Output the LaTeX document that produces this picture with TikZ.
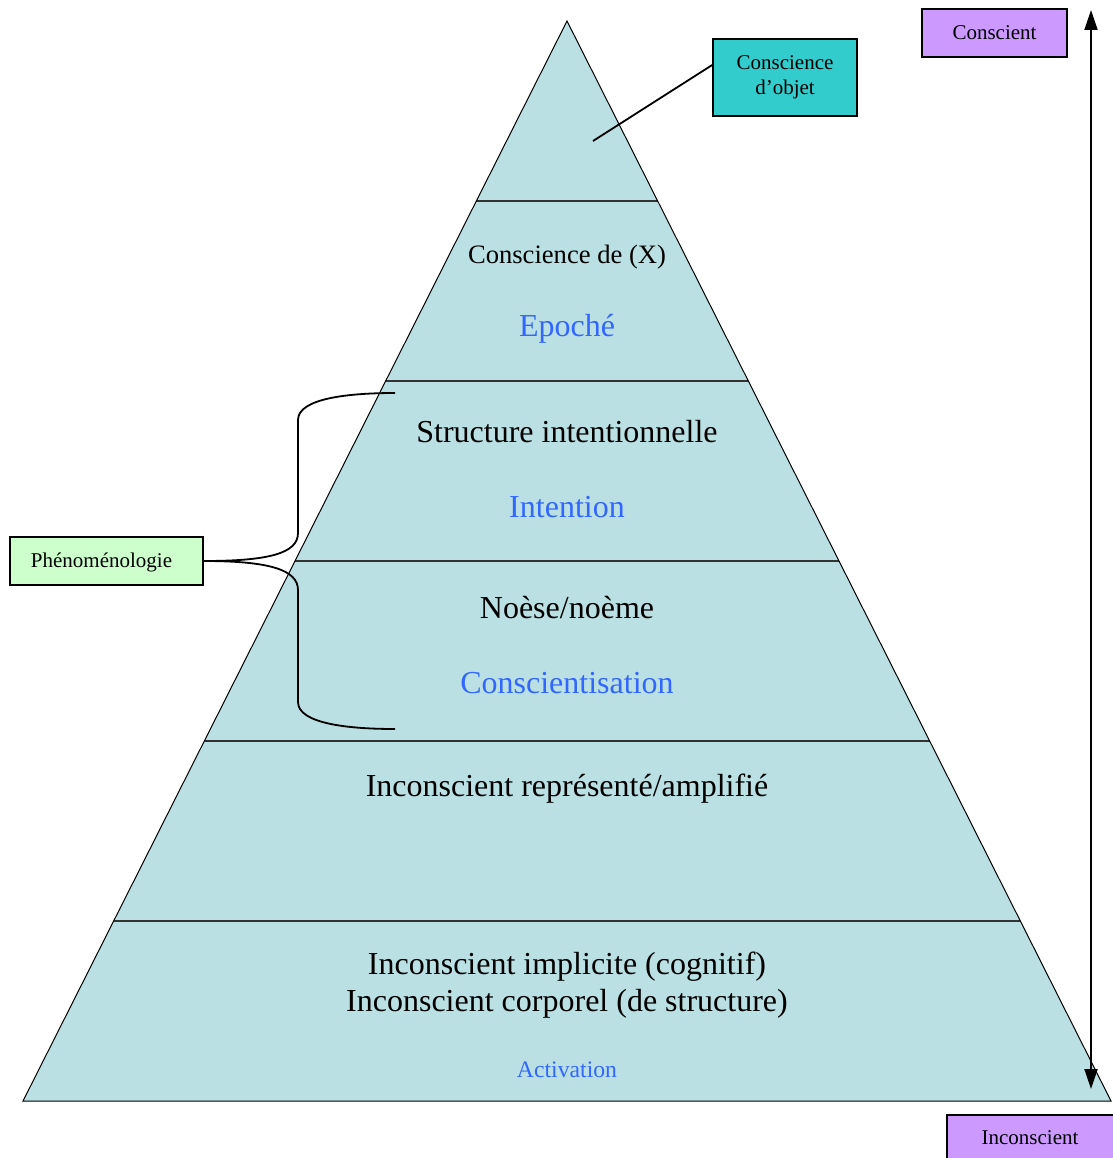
\documentclass[tikz,border=0pt]{standalone}
\usepackage{fontspec}
\setmainfont{Liberation Serif}
\usetikzlibrary{arrows.meta}
\definecolor{pyr}{HTML}{BAE0E3}
\definecolor{bluetxt}{HTML}{3366FF}
\definecolor{teal}{HTML}{33CCCC}
\definecolor{lilac}{HTML}{CC99FF}
\definecolor{mint}{HTML}{CCFFCC}
\definecolor{sep}{HTML}{333333}
\tikzset{
  smallbox/.style={draw=black, line width=1.6pt, inner sep=0pt, align=center, font=\fontsize{21}{25}\selectfont},
  bigtxt/.style={font=\fontsize{32}{37}\selectfont, inner sep=0pt},
  bluet/.style={bigtxt, text=bluetxt},
  sepline/.style={draw=sep, line width=2pt},
  conn/.style={draw=black, line width=1.8pt}
}
\begin{document}
\begin{tikzpicture}[x=1pt,y=-1pt]
\useasboundingbox (0,0) rectangle (1112,1158);
% pyramid
\coordinate (apex) at (567,21);
\coordinate (bl) at (23,1101);
\coordinate (br) at (1111,1101);
\fill[pyr] (apex) -- (bl) -- (br) -- cycle;
% separators
\draw[sepline] (476.3,201) -- (657.7,201);
\draw[sepline] (385.7,381) -- (748.3,381);
\draw[sepline] (295,561) -- (839,561);
\draw[sepline] (204.3,741) -- (929.7,741);
\draw[sepline] (113.7,921) -- (1020.3,921);
\draw[black, line width=1pt, line join=miter] (apex) -- (bl) -- (br) -- cycle;
% texts
\node[font=\fontsize{26.6}{31}\selectfont, inner sep=0pt] (t1) at (567,257.5) {Conscience de (X)};
\node[bluet] (t2) at (567,329) {Epoché};
\node[bigtxt] (t3) at (567,432) {Structure intentionnelle};
\node[bluet] (t4) at (567,507) {Intention};
\node[bigtxt] (t5) at (567,608) {Noèse/noème};
\node[bluet] (t6) at (567,683) {Conscientisation};
\node[bigtxt] (t7) at (567,789) {Inconscient représenté/amplifié};
\node[bigtxt, align=center, font=\fontsize{32}{37}\selectfont] (t8) at (567,985.5) {Inconscient implicite (cognitif)\\Inconscient corporel (de structure)};
\node[font=\fontsize{23.7}{28}\selectfont, text=bluetxt, inner sep=0pt] (t9) at (567,1070) {Activation};
% Conscience d'objet
\node[smallbox, fill=teal, minimum width=144pt, minimum height=77pt] (obj) at (785,77.5) {Conscience\\d’objet};
\coordinate (objpt) at (593,141);
\draw[conn] (objpt) -- (obj.west |- 0,65);
% Conscient / Inconscient
\node[smallbox, fill=lilac, minimum width=145pt, minimum height=48pt] (cons) at (994.5,33) {\raisebox{-1pt}{Conscient}};
\node[smallbox, fill=lilac, minimum width=168pt, minimum height=48pt, anchor=north west] (incons) at (946,1114) {};
\node[font=\fontsize{21}{25}\selectfont, inner sep=0pt] (inconst) at (1030,1138) {Inconscient};
\coordinate (atop) at (1091,10);
\coordinate (abot) at (1091,1089);
\draw[line width=2pt, {Triangle[length=20pt,width=13pt]}-{Triangle[length=20pt,width=13pt]}] (atop) -- (abot);
% Phenomenologie
\node[smallbox, fill=mint, minimum width=193pt, minimum height=48pt] (phen) at (106.5,561) {};
\node[font=\fontsize{21}{25}\selectfont, inner sep=0pt] (phent) at (101.5,562) {Phénoménologie};
\coordinate (up) at (395,393);
\coordinate (dn) at (395,729);
\draw[conn] (phen.east) .. controls (270,561) and (298,553) .. (298,533) -- (298,420) .. controls (298,398) and (350,393) .. (up);
\draw[conn] (phen.east) .. controls (270,561) and (298,570) .. (298,590) -- (298,702) .. controls (298,724) and (350,729) .. (dn);
\end{tikzpicture}
\end{document}
